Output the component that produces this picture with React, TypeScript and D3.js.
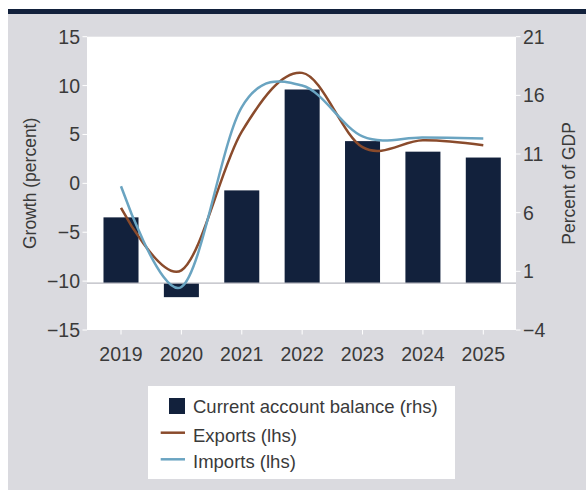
import React from 'react';
import * as d3 from 'd3';

const years = ['2019', '2020', '2021', '2022', '2023', '2024', '2025'];
const currentAccount = [5.6, -1.2, 7.9, 16.5, 12.1, 11.2, 10.7];
const exportsGrowth = [-2.5, -8.9, 5.3, 11.3, 3.7, 4.4, 3.9];
const importsGrowth = [-0.3, -10.6, 7.8, 10.0, 4.8, 4.7, 4.6];
const leftTicks = [-15, -10, -5, 0, 5, 10, 15];
const rightTicks = [-4, 1, 6, 11, 16, 21];
const legendItems = ['Current account balance (rhs)', 'Exports (lhs)', 'Imports (lhs)'];

const W = 586;
const H = 491;
const plot = { left: 87, right: 516, top: 36.7, bottom: 330 };
const NAVY = '#12213c';
const BROWN = '#8a4b2c';
const BLUE = '#6aa4c1';
const BG = '#dadadf';
const TEXT = '#3a3a3a';
const FONT = '"Liberation Sans", Arial, sans-serif';

const fmt = (v: number) => String(v).replace('-', '\u2212');

export default function App() {
  const x = d3.scalePoint<string>().domain(years).range([121, 483.3]);
  const yL = d3.scaleLinear().domain([-15, 15]).range([plot.bottom, plot.top]);
  const yR = d3.scaleLinear().domain([-4, 21]).range([plot.bottom, plot.top]);
  const barW = x.step() * 0.58;

  const line = (vals: number[]) =>
    d3
      .line<number>()
      .x((_, i) => x(years[i]) as number)
      .y((v) => yL(v))
      .curve(d3.curveCardinal.tension(0))(vals) || '';

  return (
    <svg
      width={W}
      height={H}
      style={{ position: 'absolute', left: 0, top: 0, fontFamily: FONT }}
    >
      <rect x={0} y={0} width={W} height={H} fill="#ffffff" />
      <rect x={8} y={14} width={W - 8} height={476} fill={BG} />
      <rect x={8} y={9} width={W - 8} height={5} fill={NAVY} />

      {/* plot area */}
      <rect
        x={plot.left}
        y={plot.top}
        width={plot.right - plot.left}
        height={plot.bottom - plot.top}
        fill="#ffffff"
      />

      {/* left ticks */}
      {leftTicks.map((t) => (
        <g key={'l' + t}>
          <line x1={plot.left - 4.5} x2={plot.left} y1={yL(t)} y2={yL(t)} stroke="#ffffff" strokeWidth={1} />
          <text x={80} y={yL(t)} dy="0.36em" textAnchor="end" fontSize={19.5} fill={TEXT}>
            {fmt(t)}
          </text>
        </g>
      ))}

      {/* right ticks */}
      {rightTicks.map((t) => (
        <g key={'r' + t}>
          <line x1={plot.right} x2={plot.right + 4.5} y1={yR(t)} y2={yR(t)} stroke="#ffffff" strokeWidth={1} />
          <text x={523} y={yR(t)} dy="0.36em" textAnchor="start" fontSize={19.5} fill={TEXT}>
            {fmt(t)}
          </text>
        </g>
      ))}

      {/* x ticks */}
      {years.map((yr) => (
        <g key={'x' + yr}>
          <line x1={x(yr)} x2={x(yr)} y1={plot.bottom} y2={plot.bottom + 4.5} stroke="#ffffff" strokeWidth={1} />
          <text x={x(yr)} y={361} textAnchor="middle" fontSize={19.5} fill={TEXT}>
            {yr}
          </text>
        </g>
      ))}

      {/* axis titles */}
      <text
        transform={`translate(36,${(plot.top + plot.bottom) / 2}) rotate(-90)`}
        textAnchor="middle"
        fontSize={17.5}
        fill={TEXT}
      >
        Growth (percent)
      </text>
      <text
        transform={`translate(575,${(plot.top + plot.bottom) / 2}) rotate(-90)`}
        textAnchor="middle"
        fontSize={17.5}
        fill={TEXT}
      >
        Percent of GDP
      </text>

      {/* bars */}
      {currentAccount.map((v, i) => (
        <rect
          key={'b' + i}
          x={(x(years[i]) as number) - barW / 2}
          y={yR(Math.max(0, v))}
          width={barW}
          height={Math.abs(yR(v) - yR(0))}
          fill={NAVY}
        />
      ))}

      {/* zero line */}
      <line x1={plot.left} x2={plot.right} y1={yR(0)} y2={yR(0)} stroke="#b8b9c0" strokeWidth={1.2} />

      {/* lines */}
      <path d={line(exportsGrowth)} fill="none" stroke={BROWN} strokeWidth={2.5} />
      <path d={line(importsGrowth)} fill="none" stroke={BLUE} strokeWidth={2.5} />

      {/* legend */}
      <rect x={148} y={386} width={307} height={93} fill="#ffffff" />
      <rect x={169} y={398} width={16} height={16} fill={NAVY} />
      <line x1={160.7} x2={185} y1={432.7} y2={432.7} stroke={BROWN} strokeWidth={2.5} />
      <line x1={160.7} x2={185} y1={459.3} y2={459.3} stroke={BLUE} strokeWidth={2.5} />
      {legendItems.map((t, i) => (
        <text key={t} x={193} y={[413, 441.5, 468][i]} fontSize={18.5} fill={TEXT}>
          {t}
        </text>
      ))}
    </svg>
  );
}
